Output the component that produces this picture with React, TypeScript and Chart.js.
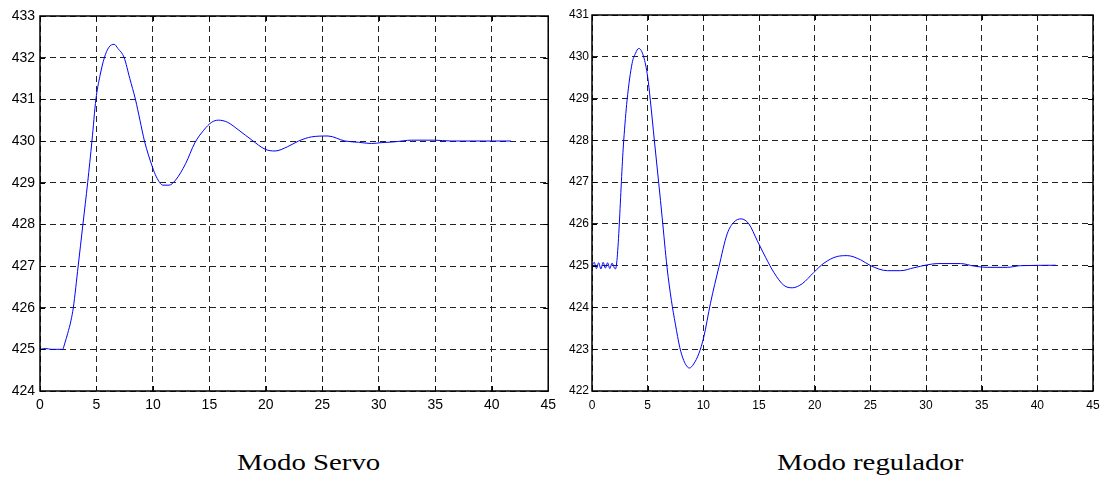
import React, { useEffect, useRef } from "react";
import { Chart, registerables } from "chart.js";

Chart.register(...registerables);

// ---- Data ----
const servoTime = [0, 0.5, 1, 1.5, 2, 2.2, 2.45, 2.75, 2.95, 3.38, 3.8, 4.22, 4.6, 4.95, 5.3, 5.7, 6.1, 6.57, 6.9, 7.45, 7.95, 8.45, 8.85, 9.25, 9.95, 10.3, 10.89, 11.42, 12.0, 12.9, 13.7, 14.5, 15.2, 15.8, 16.6, 17.6, 18.77, 19.95, 20.8, 21.9, 22.9, 24.06, 25.5, 27.0, 28.2, 29.35, 30.2, 31.4, 32.9, 34.9, 36.4, 41.7];
const servoValues = [425, 425.02, 425, 425, 425, 425.15, 425.38, 425.7, 426, 427, 428, 429, 430, 431, 431.55, 432, 432.25, 432.32, 432.22, 432, 431.5, 431, 430.5, 430, 429.38, 429.14, 428.94, 428.94, 429.06, 429.46, 429.95, 430.26, 430.45, 430.5, 430.45, 430.26, 430.02, 429.8, 429.76, 429.86, 430.0, 430.1, 430.12, 430.0, 429.97, 429.94, 429.96, 429.98, 430.02, 430.02, 430.0, 430.0];

const regTime = [0, 0.2, 0.4, 0.6, 0.8, 1.0, 1.2, 1.4, 1.6, 1.8, 2.0, 2.1, 2.85, 3.15, 3.6, 3.9, 4.2, 4.64, 5.0, 5.24, 5.6, 6.0, 6.3, 6.74, 7.13, 7.49, 7.88, 8.24, 8.75, 9.14, 9.59, 10.04, 10.64, 11.39, 12.14, 12.74, 13.4, 14.09, 14.84, 15.59, 16.33, 17.23, 17.99, 18.89, 19.93, 20.83, 22.03, 22.93, 24.13, 25.03, 26.53, 27.72, 28.92, 30.12, 31.02, 33.1, 34.32, 35.5, 37.3, 38.5, 41.66];
const regValues = [425.0, 425.08, 424.93, 425.07, 424.92, 425.08, 424.94, 425.07, 424.93, 425.06, 424.95, 424.92, 428.0, 428.96, 429.84, 430.08, 430.2, 430.0, 429.52, 428.96, 428.0, 426.96, 426.16, 424.96, 424.17, 423.6, 423.05, 422.73, 422.55, 422.65, 422.89, 423.29, 424.1, 424.96, 425.76, 426.04, 426.12, 426.0, 425.6, 425.2, 424.84, 424.53, 424.47, 424.57, 424.84, 425.06, 425.22, 425.24, 425.14, 425.0, 424.88, 424.88, 424.95, 425.02, 425.05, 425.05, 424.99, 424.96, 424.96, 425.0, 425.01];

const xRange = [0, 45];
const xStep = 5;
const servoYRange = [424, 433];
const regYRange = [422, 431];
const yStep = 1;

const servoTitle = "Modo Servo";
const regTitle = "Modo regulador";

// ---- Plugin: MATLAB-like box with inward ticks ----
const boxPlugin = {
  id: "matlabBox",
  afterDraw(chart: any) {
    const { ctx, chartArea: a, scales } = chart;
    ctx.save();
    ctx.setLineDash([]);
    ctx.strokeStyle = "#000";
    ctx.lineWidth = 1;
    const tl = 5;
    ctx.beginPath();
    scales.x.ticks.forEach((t: any) => {
      const px = Math.round(scales.x.getPixelForValue(t.value)) + 0.5;
      ctx.moveTo(px, a.bottom);
      ctx.lineTo(px, a.bottom - tl);
      ctx.moveTo(px, a.top);
      ctx.lineTo(px, a.top + tl);
    });
    scales.y.ticks.forEach((t: any) => {
      const py = Math.round(scales.y.getPixelForValue(t.value)) + 0.5;
      ctx.moveTo(a.left, py);
      ctx.lineTo(a.left + tl, py);
      ctx.moveTo(a.right, py);
      ctx.lineTo(a.right - tl, py);
    });
    ctx.stroke();
    ctx.lineWidth = 1.5;
    ctx.strokeRect(a.left, a.top, a.right - a.left, a.bottom - a.top);
    ctx.restore();
  },
};

type PanelProps = {
  time: number[];
  values: number[];
  yRange: number[];
  width: number;
  height: number;
  left: number;
  yAxisWidth: number;
  pad: { top: number; right: number; bottom: number };
  fontSize: number;
  yPad: number;
  xPad: number;
};

function Panel(p: PanelProps) {
  const ref = useRef<HTMLCanvasElement | null>(null);
  useEffect(() => {
    if (!ref.current) return;
    const data = p.time.map((t, i) => ({ x: t, y: p.values[i] }));
    const font = { family: "'Liberation Sans', Arial, sans-serif", size: p.fontSize };
    const chart = new Chart(ref.current, {
      type: "line",
      data: {
        datasets: [
          {
            data,
            borderColor: "#0000ff",
            borderWidth: 1,
            pointRadius: 0,
            fill: false,
            cubicInterpolationMode: "monotone",
          },
        ],
      },
      options: {
        responsive: false,
        animation: false,
        events: [],
        layout: { padding: { left: 0, top: p.pad.top, right: p.pad.right, bottom: p.pad.bottom } },
        plugins: { legend: { display: false }, tooltip: { enabled: false }, title: { display: false } },
        scales: {
          x: {
            type: "linear",
            min: xRange[0],
            max: xRange[1],
            ticks: { stepSize: xStep, color: "#000", font, padding: p.xPad, maxRotation: 0 },
            grid: { color: "#222", lineWidth: 1, drawTicks: false },
            border: { display: false, dash: [6, 4] },
            afterFit: (s: any) => {
              s.height = 30;
            },
          },
          y: {
            type: "linear",
            min: p.yRange[0],
            max: p.yRange[1],
            ticks: { stepSize: yStep, color: "#000", font, padding: p.yPad },
            grid: { color: "#222", lineWidth: 1, drawTicks: false },
            border: { display: false, dash: [6, 4] },
            afterFit: (s: any) => {
              s.width = p.yAxisWidth;
            },
          },
        },
      } as any,
      plugins: [boxPlugin],
    });
    return () => chart.destroy();
  }, []);
  return (
    <canvas
      ref={ref}
      width={p.width}
      height={p.height}
      style={{ position: "absolute", left: p.left, top: 0, width: p.width, height: p.height }}
    />
  );
}

const titleStyle: React.CSSProperties = {
  position: "absolute",
  top: 450,
  fontFamily: "'Liberation Serif', 'Times New Roman', serif",
  fontSize: 24,
  lineHeight: "24px",
  color: "#000",
  whiteSpace: "nowrap",
  transform: "scaleX(1.2)",
  transformOrigin: "left top",
};

export default function App() {
  return (
    <div
      style={{
        position: "absolute",
        left: 0,
        top: 0,
        width: 1107,
        height: 482,
        background: "#fff",
        overflow: "hidden",
      }}
    >
      <Panel
        time={servoTime}
        values={servoValues}
        yRange={servoYRange}
        width={562}
        height={430}
        left={0}
        yAxisWidth={40}
        pad={{ top: 16, right: 11, bottom: 9 }}
        fontSize={14}
        yPad={5}
        xPad={6}
      />
      <Panel
        time={regTime}
        values={regValues}
        yRange={regYRange}
        width={559}
        height={430}
        left={548}
        yAxisWidth={44}
        pad={{ top: 15, right: 14, bottom: 9 }}
        fontSize={12}
        yPad={3}
        xPad={7}
      />
      <div style={{ ...titleStyle, left: 237 }}>{servoTitle}</div>
      <div style={{ ...titleStyle, left: 777 }}>{regTitle}</div>
    </div>
  );
}
